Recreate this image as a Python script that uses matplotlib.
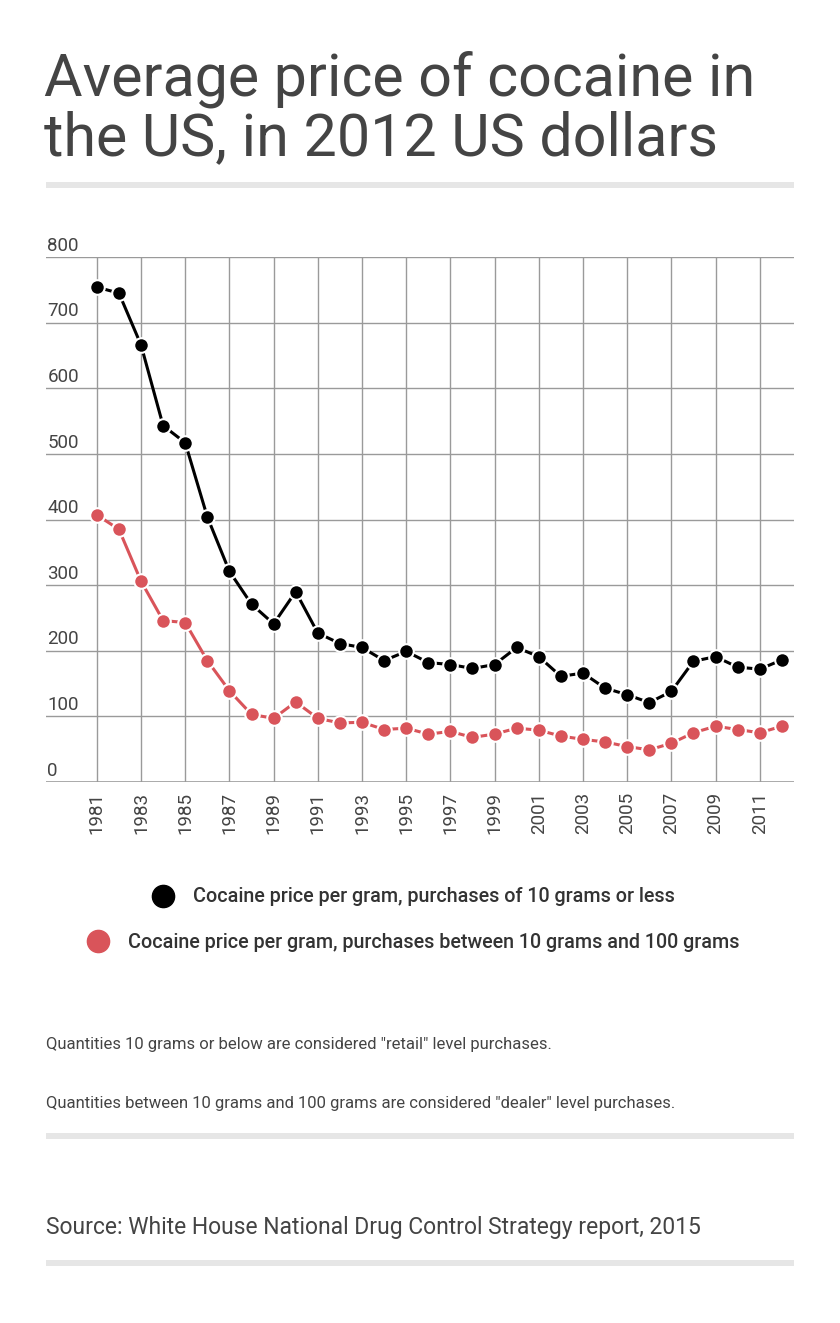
import numpy as np
import matplotlib
matplotlib.use('Agg')
from matplotlib import pyplot as plt
from matplotlib.lines import Line2D
from matplotlib.patches import Rectangle

plt.rcParams['font.family'] = ['Roboto', 'DejaVu Sans']

years = list(range(1981, 2013))
retail = [754, 745, 666, 543, 517, 404, 321, 271, 241, 290,
          227, 211, 205, 185, 199, 182, 179, 173, 179, 205,
          191, 161, 166, 143, 133, 121, 138, 184, 191, 175,
          172, 186]
dealer = [407, 385, 306, 246, 243, 185, 139, 103, 97, 122,
          97, 90, 91, 80, 82, 73, 77, 68, 73, 82,
          79, 70, 65, 61, 54, 49, 59, 75, 85, 80,
          75, 85]
yticks = [0, 100, 200, 300, 400, 500, 600, 700, 800]
xticks = list(range(1981, 2012, 2))

title_lines = ['Average price of cocaine in', 'the US, in 2012 US dollars']
labels = ['Cocaine price per gram, purchases of 10 grams or less',
          'Cocaine price per gram, purchases between 10 grams and 100 grams']
notes = ['Quantities 10 grams or below are considered "retail" level purchases.',
         'Quantities between 10 grams and 100 grams are considered "dealer" level purchases.']
source = 'Source: White House National Drug Control Strategy report, 2015'

W, H = 840, 1323
BLACK = '#000000'
RED = '#d9545a'
TXT = '#444444'

def fx(x):
    return x / W

def fy(y):
    return 1 - y / H

fig = plt.figure(figsize=(W / 100, H / 100), dpi=100)
fig.patch.set_facecolor('white')

# title
fig.text(fx(44), fy(96), title_lines[0], fontsize=42.6, color=TXT, va='baseline')
fig.text(fx(44), fy(155), title_lines[1], fontsize=42.6, color=TXT, va='baseline')

def rule(y0, y1):
    fig.add_artist(Rectangle((fx(46), fy(y1)), fx(794) - fx(46), fy(y0) - fy(y1),
                             transform=fig.transFigure, color='#e6e6e6', lw=0))

rule(182, 188)
rule(1133, 1139)
rule(1260, 1266)

# chart
ax = fig.add_axes([fx(46), fy(782), fx(794) - fx(46), fy(257) - fy(782)])
ax.set_xlim(1978.7, 2012.55)
ax.set_ylim(0, 800)
for s in ax.spines.values():
    s.set_visible(False)
ax.set_yticks(yticks)
ax.set_xticks(xticks)
ax.tick_params(length=0)
ax.set_yticklabels([])
ax.grid(True, color='#9a9a9a', lw=1)
ax.axhline(0, color='#a8a8a8', lw=2, zorder=1)
ax.set_xticklabels([str(y) for y in xticks], rotation=90, fontsize=13.5, color=TXT)
ax.tick_params(axis='x', pad=7)

for v in yticks:
    ax.annotate(str(v), (0, v), xycoords=('axes fraction', 'data'),
                xytext=(1, 4.5), textcoords='offset points',
                fontsize=13.5, color=TXT, va='baseline', ha='left')

ax.plot(years, retail, color=BLACK, lw=2.2, marker='o', ms=10.5,
        mec='white', mew=1.5, zorder=3, clip_on=False)
ax.plot(years, dealer, color=RED, lw=2.2, marker='o', ms=10.5,
        mec='white', mew=1.5, zorder=3, clip_on=False)

# legend rows, each centred
for lab, col, y in [(labels[0], BLACK, 897), (labels[1], RED, 942)]:
    h = Line2D([], [], marker='o', linestyle='none', ms=16, color=col, mec=col)
    fig.legend(handles=[h], labels=[lab], loc='center', bbox_to_anchor=(fx(414), fy(y)),
               frameon=False, handletextpad=1.0, handlelength=1.0,
               prop={'size': 14.2, 'weight': 'medium'}, labelcolor='#333333',
               borderpad=0, borderaxespad=0)

fig.text(fx(46), fy(1049), notes[0], fontsize=12, color=TXT, va='baseline')
fig.text(fx(46), fy(1108), notes[1], fontsize=12, color=TXT, va='baseline')
fig.text(fx(46), fy(1234), source, fontsize=16.5, color=TXT, va='baseline')

fig.savefig('out.png', dpi=100, facecolor='white')
